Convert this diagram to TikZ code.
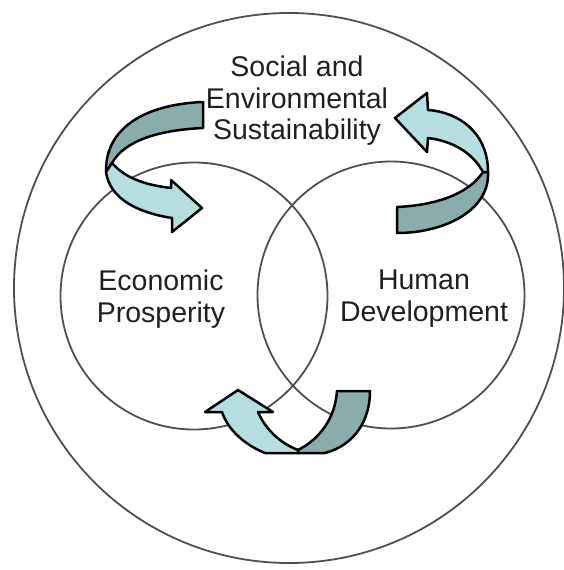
\documentclass[tikz,border=0pt]{standalone}
\usepackage{fontspec}
\setmainfont{Liberation Sans}
\usepackage{tikz}
\usetikzlibrary{calc}
\definecolor{ringgray}{RGB}{80,80,80}
\definecolor{textgray}{RGB}{32,32,32}
\definecolor{bandlight}{RGB}{182,222,224}
\definecolor{banddark}{RGB}{139,172,172}
\begin{document}
\begin{tikzpicture}[x=1pt, y=-1pt,
        ring_style/.style={circle,draw=ringgray,line width=1.8pt,inner sep=0pt},
        label_style/.style={align=center,inner sep=0pt,text=textgray,font=\fontsize{28.5}{31.5}\selectfont},
        front_band/.style={draw=black,fill=bandlight,line width=2.5pt,line join=round},
        back_band/.style={draw=black,fill=banddark,line width=2.5pt,line join=round}]

        \useasboundingbox (0,0) rectangle (564,570);

        \node [ring_style, minimum size=550pt](whole) at (289,288) {};
        \node [ring_style, minimum size=267pt](econ) at (194,296) {};
        \node [ring_style, minimum size=267pt](human) at (391,295) {};

        \node [label_style, anchor=north](social) at (297,56) {Social and\\Environmental\\Sustainability};
        \node [label_style, anchor=north](prosper) at (161,270) {Economic\\Prosperity};
        \node [label_style, anchor=north](develop) at (424,270) {Human\\Development};

        % top left
        \filldraw [back_band] (203,102) .. controls (150,104) and (105,125) .. (106,172)
            -- (112,163) .. controls (125,140) and (160,130) .. (203,128) -- cycle;
        \filldraw [front_band] (112,163) .. controls (125,178) and (145,185) .. (171,188)
            -- (171,180) -- (202,208) -- (172,232) -- (172,218)
            .. controls (140,213) and (110,200) .. (106,172) -- cycle;

        % top right
        \filldraw [back_band] (488,172) .. controls (490,210) and (445,233) .. (397,233)
            -- (397,207) .. controls (440,205) and (470,192) .. (483,172) -- cycle;
        \filldraw [front_band] (395,118) -- (427,93) -- (428,110)
            .. controls (458,112) and (488,132) .. (488,172) -- (483,172)
            .. controls (472,152) and (452,141) .. (428,138) -- (427,152) -- cycle;

        % bottom
        \filldraw [back_band] (298,450) .. controls (318,440) and (335,420) .. (337,391)
            -- (370,391) .. controls (370,420) and (355,445) .. (325,453) -- (298,453) -- cycle;
        \filldraw [front_band] (205,412) -- (238,390) -- (273,412) -- (258,412)
            .. controls (266,430) and (280,443) .. (298,450) -- (298,453) -- (265,453)
            .. controls (245,445) and (228,430) .. (222,412) -- cycle;
\end{tikzpicture}
\end{document}
